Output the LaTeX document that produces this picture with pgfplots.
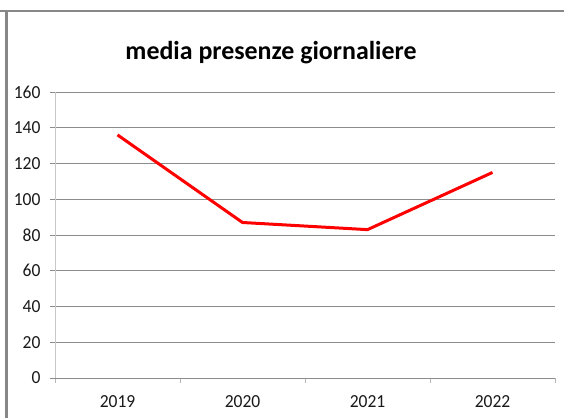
\documentclass[border=0pt]{standalone}
\usepackage{pgfplots}
\pgfplotsset{compat=1.18}
\usepackage{fontspec}
\setmainfont{Carlito}
\newfontfamily\tickfont[FakeStretch=0.95]{Carlito}
\definecolor{gridgray}{RGB}{140,140,140}
\definecolor{framegray}{RGB}{135,135,135}
\definecolor{ylinegray}{RGB}{200,200,200}
\begin{document}
\begin{tikzpicture}[x=1bp,y=1bp]
\useasboundingbox (0,0) rectangle (564,418);
\draw[framegray, line width=2bp] (0,406.5) -- (564,406.5);
\draw[framegray, line width=3.3bp] (6.3,407.5) -- (6.3,0);
\begin{axis}[
  at={(55bp,40bp)}, anchor=south west,
  width=500bp, height=286bp, scale only axis,
  xmin=-0.5, xmax=3.5, ymin=0, ymax=160,
  xtick={-0.5,0.5,1.5,2.5,3.5},
  xticklabels={2019,2020,2021,2022},
  x tick label as interval,
  ytick={0,20,...,160},
  axis x line*=bottom, axis y line*=left,
  x axis line style={gridgray, line width=0.8bp, -},
  y axis line style={ylinegray, line width=0.8bp, -},
  ymajorgrids, major grid style={gridgray, line width=0.8bp},
  tick align=outside, major tick length=5bp,
  tick style={gridgray, line width=0.8bp},
  x tick style={ylinegray!70!gridgray},
  ticklabel style={font=\tickfont\fontsize{18.5}{18.5}\selectfont, text=black!90},
  yticklabel style={xshift=-6bp},
  xticklabel style={yshift=-9bp},
  /pgf/number format/assume math mode=true,
  title={\fontsize{26}{26}\selectfont\bfseries media presenze giornaliere},
  title style={at={(0.432,1)}, anchor=south, yshift=19bp},
]
\addplot[red, line width=3bp, line join=round] coordinates {(0,136) (1,87) (2,83) (3,115)};
\end{axis}
\end{tikzpicture}
\end{document}
